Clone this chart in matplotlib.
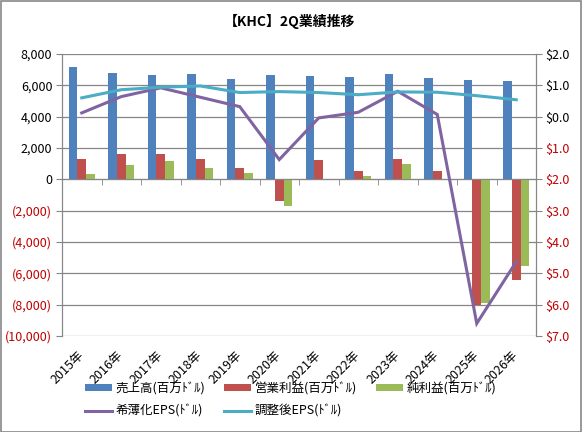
import matplotlib
matplotlib.use('Agg')
import matplotlib.pyplot as plt
import matplotlib.patches as mpatches
import matplotlib.transforms as mtransforms
from matplotlib.ticker import FixedLocator
import numpy as np

plt.rcParams['font.family'] = ['Noto Sans CJK JP', 'DejaVu Sans']

years = ['2015年', '2016年', '2017年', '2018年', '2019年', '2020年',
         '2021年', '2022年', '2023年', '2024年', '2025年', '2026年']
sales = [7150, 6780, 6640, 6700, 6390, 6640, 6570, 6500, 6700, 6440, 6320, 6250]
op_income = [1270, 1610, 1610, 1270, 700, -1380, 1210, 510, 1320, 510, -8030, -6450]
net_income = [320, 890, 1150, 700, 380, -1700, -60, 190, 960, 20, -7880, -5500]
eps_diluted = [0.12, 0.64, 0.92, 0.62, 0.32, -1.37, -0.04, 0.14, 0.81, 0.07, -6.60, -4.63]
eps_adjusted = [0.60, 0.86, 0.94, 0.98, 0.77, 0.80, 0.77, 0.70, 0.79, 0.78, 0.67, 0.54]

labels = ['売上高(百万ﾄﾞﾙ)', '営業利益(百万ﾄﾞﾙ)', '純利益(百万ﾄﾞﾙ)', '希薄化EPS(ﾄﾞﾙ)', '調整後EPS(ﾄﾞﾙ)']
colors = ['#4F81BD', '#C0504D', '#9BBB59', '#8064A2', '#4BACC6']
neg_red = '#C00000'
grid_gray = '#868686'

fig = plt.figure(figsize=(5.82, 4.32), dpi=100)
ax = fig.add_axes([62 / 582, 1 - 336 / 432, (536 - 62) / 582, (336 - 54) / 432])
ax2 = ax.twinx()

x = np.arange(len(years))
w = 1 / 4.5
ax.bar(x - w, sales, w, color=colors[0], label=labels[0], zorder=2)
ax.bar(x, op_income, w, color=colors[1], label=labels[1], zorder=2)
ax.bar(x + w, net_income, w, color=colors[2], label=labels[2], zorder=2)

ax2.plot(x, eps_diluted, color=colors[3], lw=2.2, label=labels[3], solid_joinstyle='miter')
ax2.plot(x, eps_adjusted, color=colors[4], lw=2.2, label=labels[4])

ax.set_xlim(-0.5, len(years) - 0.5)
ax.set_ylim(-10000, 8000)
ax2.set_ylim(-7, 2)

# left axis
lticks = np.arange(-10000, 8001, 2000)
ax.set_yticks(lticks)
ax.set_yticklabels([f'{v:,}' if v >= 0 else f'({-v:,})' for v in lticks])
for lab, v in zip(ax.get_yticklabels(), lticks):
    lab.set_color(neg_red if v < 0 else 'black')
ax.tick_params(axis='y', labelsize=9, length=4, color=grid_gray, pad=3)
ax.yaxis.grid(True, color=grid_gray, lw=0.9)
ax.set_axisbelow(True)

# right axis
rticks = np.arange(-7, 2.01, 1)
ax2.set_yticks(rticks)
ax2.set_yticklabels([f'${abs(v):.1f}' for v in rticks])
for lab, v in zip(ax2.get_yticklabels(), rticks):
    lab.set_color(neg_red if v < 0 else 'black')
ax2.tick_params(axis='y', labelsize=9, length=4, color=grid_gray, pad=3)

for a in (ax, ax2):
    a.spines['top'].set_visible(False)
    a.spines['left'].set_color(grid_gray)
    a.spines['right'].set_color(grid_gray)
ax2.spines['bottom'].set_visible(False)

# category axis drawn at zero
ax.spines['bottom'].set_position(('data', 0))
ax.spines['bottom'].set_color(grid_gray)
ax.set_xticks(x)
ax.set_xticklabels([])
ax.tick_params(axis='x', which='major', length=0)
ax.xaxis.set_minor_locator(FixedLocator(np.arange(0.5, len(years) - 0.5, 1)))
ax.tick_params(axis='x', which='minor', length=4, color=grid_gray, direction='out')

trans = mtransforms.blended_transform_factory(ax.transData, ax.transAxes)
for i, yr in enumerate(years):
    ax.text(i + 0.12, -0.045, yr, transform=trans, rotation=45, ha='right', va='top',
            fontsize=9)

fig.text(0.497, 1 - 21 / 432, '【KHC】2Q業績推移', ha='center', va='center',
         fontsize=10, fontweight='bold')

h1, l1 = ax.get_legend_handles_labels()
h2, l2 = ax2.get_legend_handles_labels()
handles = [h1[0], h2[0], h1[1], h2[1], h1[2]]
leg_labels = [l1[0], l2[0], l1[1], l2[1], l1[2]]
fig.legend(handles, leg_labels, ncol=3, loc='center', bbox_to_anchor=(0.499, 1 - 400 / 432),
           frameon=False, fontsize=9, handlelength=2.2, handleheight=0.5,
           handletextpad=0.25, columnspacing=1.5, labelspacing=0.75)

fig.patches.append(mpatches.Rectangle((0.5 / 582, 0.5 / 432), 1 - 1.5 / 582, 1 - 1.5 / 432,
                                      transform=fig.transFigure, fill=False,
                                      edgecolor='#888888', lw=1.2))

fig.savefig('out.png', dpi=100)
